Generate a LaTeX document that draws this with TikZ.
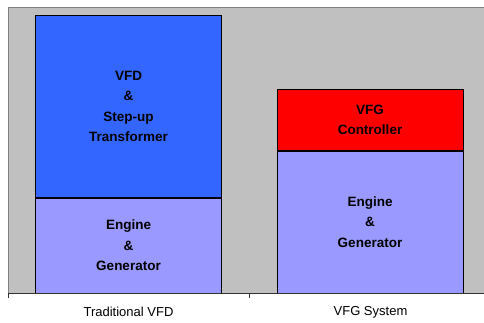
\documentclass[tikz,border=0pt]{standalone}
\usepackage{fontspec}
\setmainfont{Liberation Sans}
\usepackage{tikz}
\usetikzlibrary{positioning}
\definecolor{vfdblue}{HTML}{3366FF}
\definecolor{genlilac}{HTML}{9999FF}
\definecolor{plotgray}{HTML}{C0C0C0}

\begin{document}
\begin{tikzpicture}[x=1pt,y=1pt,
	seg/.style={draw=black,line width=0.8pt,minimum width=186pt,inner sep=0pt,align=center,
		font=\fontsize{13.5}{20.5}\selectfont\bfseries},
	axlab/.style={font=\fontsize{13}{15}\selectfont,inner sep=0pt}]
	\useasboundingbox (0,0) rectangle (484,322);
	% plot area
	\fill[plotgray] (8,28.7) rectangle (484,314.7);
	\draw[gray,line width=0.8pt] (8,28.7) -- (8,314.7) -- (484,314.7);
	% bars
	\node[seg,fill=genlilac,minimum height=95pt,anchor=south] (eng1) at (128.5,28.7) {Engine\\\&\\Generator};
	\node[seg,fill=vfdblue,minimum height=181.6pt,above=0pt of eng1] (vfd) {VFD\\\&\\Step-up\\Transformer};
	\node[seg,fill=genlilac,minimum height=141.6pt,anchor=south] (eng2) at (370,28.7) {Engine\\\&\\Generator};
	\node[seg,fill=red,minimum height=61pt,above=0pt of eng2] (ctl) {VFG\\Controller};
	% axis
	\draw[black!80,line width=0.8pt] (8,28.7) -- (484,28.7);
	\draw[black!80,line width=0.8pt] (8,28.7) -- (8,24) (249.3,28.7) -- (249.3,24);
	\node[axlab] (lab1) at (128.5,10) {Traditional VFD};
	\node[axlab] (lab2) at (370.5,10) {VFG System};
\end{tikzpicture}
\end{document}
